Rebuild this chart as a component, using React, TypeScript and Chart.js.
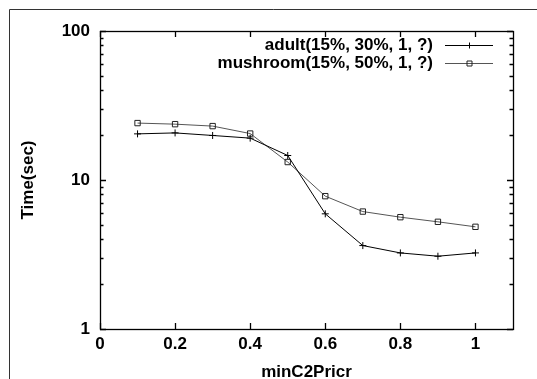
import React, { useEffect, useRef } from 'react';
import { Chart, registerables } from 'chart.js';

Chart.register(...registerables);

const minC2PricrValues = [0.1, 0.2, 0.3, 0.4, 0.5, 0.6, 0.7, 0.8, 0.9, 1.0];
const adultTimes = [20.4, 20.7, 19.9, 19.1, 14.6, 5.93, 3.63, 3.24, 3.08, 3.24];
const mushroomTimes = [24.1, 23.7, 23.0, 20.5, 13.2, 7.79, 6.14, 5.63, 5.24, 4.85];
const seriesLabels = ['adult(15%, 30%, 1, ?)', 'mushroom(15%, 50%, 1, ?)'];
const xTickValues = [0, 0.2, 0.4, 0.6, 0.8, 1];
const yTickValues = [1, 10, 100];
const yMinorTickValues = [2, 3, 4, 5, 6, 7, 8, 9, 20, 30, 40, 50, 60, 70, 80, 90];
const xAxisTitle = 'minC2Pricr';
const yAxisTitle = 'Time(sec)';

const FONT_FAMILY = '"Liberation Sans", Arial, Helvetica, sans-serif';

const gnuplotPlugin = {
  id: 'gnuplotFrame',
  beforeDraw(chart: any) {
    const ctx = chart.ctx;
    ctx.save();
    ctx.strokeStyle = '#333';
    ctx.lineWidth = 1;
    ctx.beginPath();
    ctx.moveTo(9.5, chart.height);
    ctx.lineTo(9.5, 9.5);
    ctx.lineTo(chart.width, 9.5);
    ctx.stroke();
    ctx.restore();
  },
  beforeDatasetsDraw(chart: any) {
    const ctx = chart.ctx;
    const { left, right, top, bottom } = chart.chartArea;
    const xs = chart.scales.x;
    const ys = chart.scales.y;
    ctx.save();
    ctx.strokeStyle = '#000';
    ctx.lineWidth = 1.3;
    ctx.beginPath();
    xTickValues.forEach((v) => {
      const px = Math.round(xs.getPixelForValue(v)) + 0.5;
      ctx.moveTo(px, bottom);
      ctx.lineTo(px, bottom - 6);
      ctx.moveTo(px, top);
      ctx.lineTo(px, top + 6);
    });
    yTickValues.forEach((v) => {
      const py = Math.round(ys.getPixelForValue(v)) + 0.5;
      ctx.moveTo(left, py);
      ctx.lineTo(left + 6, py);
      ctx.moveTo(right, py);
      ctx.lineTo(right - 6, py);
    });
    yMinorTickValues.forEach((v) => {
      const py = Math.round(ys.getPixelForValue(v)) + 0.5;
      ctx.moveTo(left, py);
      ctx.lineTo(left + 3.5, py);
      ctx.moveTo(right, py);
      ctx.lineTo(right - 3.5, py);
    });
    ctx.stroke();
    ctx.lineWidth = 1.3;
    ctx.strokeRect(Math.round(left) + 0.5, Math.round(top) + 0.5, Math.round(right - left), Math.round(bottom - top));
    ctx.restore();
  },
  afterDraw(chart: any) {
    const ctx = chart.ctx;
    const { right, top } = chart.chartArea;
    ctx.save();
    chart.data.datasets.forEach((ds: any, i: number) => {
      const y = Math.round(top + 14 + i * 18) + 0.5;
      ctx.font = `bold 17px ${FONT_FAMILY}`;
      ctx.fillStyle = '#000';
      ctx.textAlign = 'right';
      ctx.textBaseline = 'middle';
      ctx.fillText(ds.label, right - 80, y);
      const x0 = right - 68;
      const x1 = right - 20;
      ctx.strokeStyle = ds.borderColor;
      ctx.lineWidth = 1;
      ctx.beginPath();
      ctx.moveTo(x0, y);
      ctx.lineTo(x1, y);
      ctx.stroke();
      const mx = Math.round((x0 + x1) / 2) + 0.5;
      ctx.strokeStyle = ds.pointBorderColor;
      ctx.beginPath();
      if (ds.pointStyle === 'cross') {
        ctx.moveTo(mx - 3, y);
        ctx.lineTo(mx + 3, y);
        ctx.moveTo(mx, y - 3);
        ctx.lineTo(mx, y + 3);
      } else {
        ctx.rect(mx - 2.5, y - 2.5, 5, 5);
      }
      ctx.stroke();
    });
    ctx.restore();
  },
};

export default function App() {
  const canvasRef = useRef<HTMLCanvasElement | null>(null);

  useEffect(() => {
    document.body.style.margin = '0';
    const canvas = canvasRef.current;
    if (!canvas) return;
    const chart = new Chart(canvas, {
      type: 'line',
      data: {
        datasets: [
          {
            label: seriesLabels[0],
            data: minC2PricrValues.map((x, i) => ({ x, y: adultTimes[i] })),
            borderColor: '#000',
            borderWidth: 1,
            pointStyle: 'cross',
            pointRadius: 3.5,
            pointBorderColor: '#000',
            pointBorderWidth: 1,
            pointBackgroundColor: 'transparent',
            fill: false,
            tension: 0,
          },
          {
            label: seriesLabels[1],
            data: minC2PricrValues.map((x, i) => ({ x, y: mushroomTimes[i] })),
            borderColor: '#555',
            borderWidth: 1,
            pointStyle: 'rect',
            pointRadius: 3.8,
            pointBorderColor: '#222',
            pointBorderWidth: 1,
            pointBackgroundColor: 'transparent',
            fill: false,
            tension: 0,
          },
        ],
      },
      options: {
        responsive: false,
        animation: false,
        devicePixelRatio: 1,
        layout: { padding: { top: 31, right: 24, left: 0, bottom: 0 } },
        plugins: {
          legend: { display: false },
          tooltip: { enabled: false },
        },
        scales: {
          x: {
            type: 'linear',
            min: 0,
            max: 1.1,
            grid: { display: false, drawTicks: false },
            border: { display: false },
            afterBuildTicks: (scale: any) => {
              scale.ticks = xTickValues.map((value) => ({ value }));
            },
            afterFit: (scale: any) => {
              scale.height = 50;
            },
            ticks: {
              autoSkip: false,
              maxRotation: 0,
              padding: 5,
              color: '#000',
              font: { family: FONT_FAMILY, size: 17, weight: 'bold' },
              callback: (v: any) => String(v),
            },
            title: {
              display: true,
              text: xAxisTitle,
              color: '#000',
              font: { family: FONT_FAMILY, size: 17, weight: 'bold', lineHeight: 1 },
              padding: { top: 0, bottom: -2 },
            },
          },
          y: {
            type: 'logarithmic',
            min: 1,
            max: 100,
            grid: { display: false, drawTicks: false },
            border: { display: false },
            afterBuildTicks: (scale: any) => {
              scale.ticks = yTickValues.map((value) => ({ value }));
            },
            afterFit: (scale: any) => {
              scale.width = 100;
            },
            ticks: {
              autoSkip: false,
              padding: 10,
              color: '#000',
              font: { family: FONT_FAMILY, size: 17, weight: 'bold' },
              callback: (v: any) => String(v),
            },
            title: {
              display: true,
              text: yAxisTitle,
              color: '#000',
              font: { family: FONT_FAMILY, size: 17, weight: 'bold' },
              padding: { top: 18, bottom: 0 },
            },
          },
        },
      },
      plugins: [gnuplotPlugin],
    } as any);
    return () => chart.destroy();
  }, []);

  return (
    <div style={{ width: 537, height: 379, position: 'relative' }}>
      <canvas ref={canvasRef} width={537} height={379} style={{ display: 'block', width: 537, height: 379 }} />
    </div>
  );
}
